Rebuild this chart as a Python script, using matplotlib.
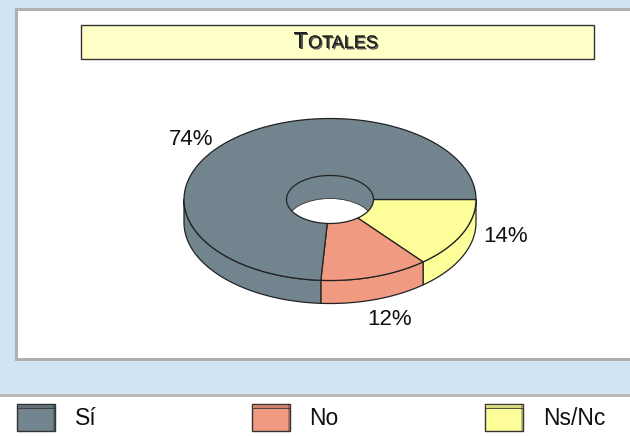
import numpy as np
import matplotlib
matplotlib.use('Agg')
import matplotlib.pyplot as plt
import matplotlib.patheffects as pe
from matplotlib.patches import Polygon, Rectangle, Ellipse

plt.rcParams['font.family'] = ['Liberation Sans', 'DejaVu Sans']

categories = ['Sí', 'No', 'Ns/Nc']
values = [74, 12, 14]
colors = ['#72848E', '#F09A82', '#FDFD99']
percent_labels = ['74%', '12%', '14%']
title = 'Totales'

# donut geometry in pixels
CX, CY = 330, 199.5
RX, RY = 146, 81
HOLE_X, HOLE_Y = 43.5, 24
DEPTH = 23


def arc(rx, ry, a0, a1, dy=0):
    t = np.radians(np.linspace(a0, a1, 120))
    return np.column_stack([CX + rx * np.cos(t), CY + dy + ry * np.sin(t)])


def draw_legend_box(ax, x, y, w, h, color):
    ax.add_patch(Rectangle((x, y), w, h, fc=color, ec='#333333', lw=1, zorder=3))
    ax.add_patch(Rectangle((x, y), w, 4, fc=color, ec='#333333', lw=0.6, zorder=4))
    ax.add_patch(Rectangle((x, y), w, 4, fc='black', alpha=0.15, ec='none', zorder=5))
    ax.add_patch(Rectangle((x + w - 2, y), 2, h, fc='black', alpha=0.25, ec='none', zorder=5))


fig = plt.figure(figsize=(6.30, 4.36), dpi=100)
ax = fig.add_axes([0, 0, 1, 1])
ax.set_xlim(0, 630)
ax.set_ylim(436, 0)
ax.axis('off')

# backgrounds
ax.add_patch(Rectangle((0, 0), 630, 436, fc='#D0E4F3', ec='none', zorder=0))
ax.add_patch(Rectangle((15, 8), 620, 353, fc='#B0B0B0', ec='none', zorder=0.5))
ax.add_patch(Rectangle((18, 11), 620, 347, fc='white', ec='none', zorder=0.6))
ax.add_patch(Rectangle((0, 394), 630, 42, fc='#B8B8B8', ec='none', zorder=0.5))
ax.add_patch(Rectangle((0, 397), 630, 39, fc='white', ec='none', zorder=0.6))

# title box
ax.add_patch(Rectangle((81, 25), 513, 34, fc='#FFFFC8', ec='#333333', lw=1, zorder=1))
shadow = [pe.withSimplePatchShadow(offset=(1, -1), shadow_rgbFace='#555555', alpha=1), pe.Normal()]
ax.text(293, 48, title[0].upper(), fontsize=17, ha='left', va='baseline', color='#222222',
        path_effects=shadow, zorder=2)
ax.text(308, 48, title[1:].upper(), fontsize=13, ha='left', va='baseline', color='#222222',
        path_effects=shadow, zorder=2)

# slices go clockwise from 3 o'clock, starting with the last category
order = [2, 1, 0]
start = 0
edges = {}
for i in order:
    edges[i] = (start, start + values[i] * 3.6)
    start += values[i] * 3.6

# hole: far inner wall, then the white opening through the bottom
hole = Ellipse((CX, CY), 2 * HOLE_X, 2 * HOLE_Y, fc=colors[0], ec='none', zorder=1)
ax.add_patch(hole)
opening = Ellipse((CX, CY + DEPTH), 2 * HOLE_X, 2 * HOLE_Y, fc='white', ec='#333333', lw=0.6, zorder=1.1)
ax.add_patch(opening)
opening.set_clip_path(hole)

# outer wall, front half only
for i in order:
    a0, a1 = edges[i]
    if a0 >= 180:
        continue
    a1 = min(a1, 180)
    pts = np.vstack([arc(RX, RY, a0, a1), arc(RX, RY, a1, a0, DEPTH)])
    ax.add_patch(Polygon(pts, closed=True, fc=colors[i], ec='#222222', lw=0.9, zorder=2, joinstyle='round'))

# top face
for i in order:
    a0, a1 = edges[i]
    pts = np.vstack([arc(RX, RY, a0, a1), arc(HOLE_X, HOLE_Y, a1, a0)])
    ax.add_patch(Polygon(pts, closed=True, fc=colors[i], ec='#222222', lw=0.9, zorder=3, joinstyle='round'))

# percent labels
label_pos = [(191, 139), (390, 319), (506, 236)]
for text, (x, y) in zip(percent_labels, label_pos):
    ax.text(x, y, text, fontsize=16, ha='center', va='center', color='#111111', zorder=4)

# legend
legend_box_x = [17, 252, 485]
legend_text_x = [75, 309, 543]
for name, color, bx, tx in zip(categories, colors, legend_box_x, legend_text_x):
    draw_legend_box(ax, bx, 404, 38, 27, color)
    ax.text(tx, 418, name, fontsize=16.5, ha='left', va='center', color='#111111', zorder=4)

fig.savefig('out.png', dpi=100)
